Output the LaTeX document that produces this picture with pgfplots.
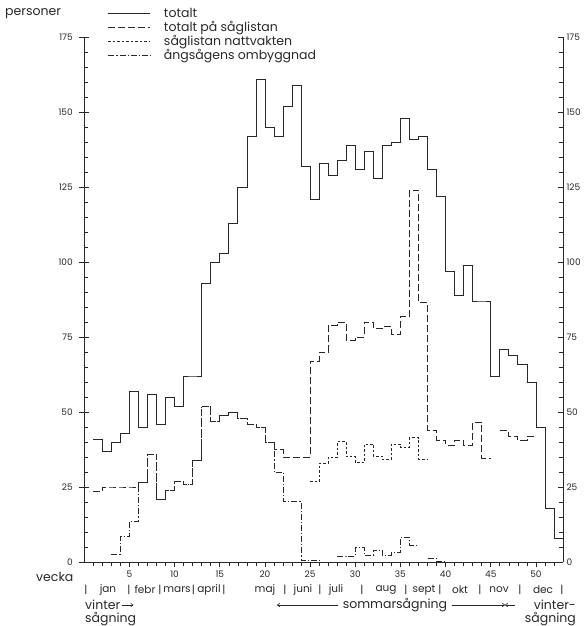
\documentclass[border=0pt]{standalone}
\usepackage{fontspec}
\setmainfont{Poppins}
\usepackage{pgfplots}
\pgfplotsset{compat=1.18}
\usetikzlibrary{arrows.meta}
\definecolor{ink}{RGB}{40,40,40}
\begin{document}
\begin{tikzpicture}
\useasboundingbox (0pt,0pt) rectangle (586pt,-626pt);
\begin{axis}[
  at={(84.3pt,-562pt)}, anchor=south west,
  scale only axis, width=478.7pt, height=525pt,
  xmin=0, xmax=53, ymin=0, ymax=175,
  axis x line*=bottom, axis y line*=left,
  xtick={5,10,...,50}, minor xtick={1,2,...,52},
  ytick={0,25,...,175},
  tick align=outside,
  major tick length=5pt, minor tick length=4pt,
  tick style={ink, line width=0.6pt},
  axis line style={ink, line width=0.7pt},
  /pgf/number format/assume math mode=true,
  ticklabel style={font=\fontsize{9}{10}\selectfont, text=ink},
  yticklabel style={xshift=-3pt},
  legend style={at={(0.043,1.062)}, anchor=north west, draw=none, fill=none,
    font=\fontsize{12.5}{14}\selectfont, text=ink,
    row sep=0pt, nodes={inner sep=1.2pt}},
  legend cell align=left,
  legend image code/.code={\draw[#1] (0pt,0pt) -- (42pt,0pt); \path (54pt,0pt);},
  every axis plot/.append style={ink, line width=0.7pt, const plot mark left, mark=none},
]
% totalt
\addplot[solid] coordinates {(1,41)(2,37)(3,40)(4,43)(5,57)(6,45)(7,56)(8,46)(9,55)(10,52)(11,62)(12,62)(13,93)(14,100)(15,103)(16,113)(17,125)(18,142)(19,161)(20,145)(21,142)(22,152)(23,159)(24,132)(25,121)(26,133)(27,129)(28,134)(29,139)(30,131)(31,137)(32,128)(33,139)(34,140)(35,148)(36,141)(37,142)(38,131)(39,122)(40,97)(41,89)(42,99)(43,87)(44,87)(45,62)(46,71)(47,69)(48,66)(49,60)(50,45)(51,18)(52,8)(53,8)};
\addlegendentry{totalt}
% totalt på såglistan
\addplot[dash pattern=on 7pt off 3pt] coordinates {(1,23.5)(2,25)(3,25)(4,25)(5,25)(6,26.5)(7,36)(8,21)(9,24)(10,27)(11,26)(12,34)(13,52)(14,47)(15,49)(16,50)(17,48)(18,46)(19,45)(20,40)(21,37.5)(22,35)(23,35)(24,35)(25,67)(26,70)(27,79)(28,80)(29,74)(30,75)(31,80)(32,78)(33,78.5)(34,76)(35,82)(36,124)(37,86.5)(38,44)(39,40.7)(40,39)(41,40.7)(42,39)(43,46.6)(44,34.6)(45,34.6)};
\addlegendentry{totalt på såglistan}
% såglistan nattvakten
\addplot[dash pattern=on 2.5pt off 2pt] coordinates {(25,26.8)(26,32.9)(27,34.9)(28,40.1)(29,35.1)(30,33.1)(31,39.3)(32,35.3)(33,34.2)(34,39.3)(35,38.2)(36,41.4)(37,34.3)(38,34.3)};
\addlegendentry{såglistan nattvakten}
% ångsågens ombyggnad
\addplot[dash pattern=on 6pt off 2pt on 1.2pt off 2pt] coordinates {(3,2.5)(4,8.5)(5,13.5)(6,26.5)(7,36)(8,21)(9,24)(10,27)(11,26)(12,34)(13,52)(14,47)(15,49)(16,50)(17,48)(18,46)(19,45)(20,40)(21,30)(22,20.3)(23,20.3)(24,0.7)(25,0.7)(26,0.7)};
\addlegendentry{ångsågens ombyggnad}
\addplot[dash pattern=on 7pt off 3pt, forget plot] coordinates {(46,43.8)(47,41.8)(48,40.7)(49,41.8)(50,41.8)};
\addplot[dash pattern=on 6pt off 2pt on 1.2pt off 2pt, forget plot] coordinates {(28,2)(29,2)(30,5)(31,2.3)(32,4)(33,2.3)(34,3.1)(35,8.2)(36,5.7)(37,5.7)};
\addplot[dash pattern=on 6pt off 2pt on 1.2pt off 2pt, forget plot] coordinates {(38,1.2)(39,0.3)(40,0.3)};
\end{axis}
\begin{axis}[
  at={(84.3pt,-562pt)}, anchor=south west,
  scale only axis, width=478.7pt, height=525pt,
  xmin=0, xmax=53, ymin=0, ymax=175,
  hide x axis,
  ytick={0,25,...,175}, minor ytick={0,5,...,175},
  tick align=inside, yticklabel pos=right, ytick pos=both,
  major tick length=5pt, minor tick length=4pt,
  tick style={ink, line width=0.6pt},
  axis line style={ink, line width=0.7pt},
  /pgf/number format/assume math mode=true,
  ticklabel style={font=\fontsize{9}{10}\selectfont, text=ink},
]
\addplot[draw=none, forget plot] coordinates {(0,0)(53,175)};
\end{axis}
\begin{scope}[every node/.style={text=ink, font=\fontsize{12.5}{14}\selectfont, inner sep=0pt}]
\node[anchor=west] at (5pt,-14pt) {personer};
\node[anchor=west] at (36pt,-577pt) {vecka};
% month row
\begin{scope}[every node/.style={text=ink, font=\fontsize{10.5}{12}\selectfont, inner sep=0pt}]
\foreach \x in {86,129,160,193.5,224,285,320,362,406,440,480,520,562}{\node at (\x pt,-590pt) {|};}
\node at (108pt,-590pt) {jan};
\node at (145pt,-590pt) {febr};
\node at (177pt,-590pt) {mars};
\node at (209pt,-590pt) {april};
\node at (265pt,-590pt) {maj};
\node at (303pt,-590pt) {juni};
\node at (336pt,-590pt) {juli};
\node at (386pt,-590pt) {aug};
\node at (424pt,-590pt) {sept};
\node at (460pt,-590pt) {okt};
\node at (499pt,-590pt) {nov};
\node at (543pt,-590pt) {dec};
\end{scope}
% seasons
\node[anchor=west] (v1) at (85pt,-605pt) {vinter};
\draw[ink, line width=0.6pt, -{To[length=3pt,width=4pt]}] ([xshift=2pt]v1.east) -- ++(11pt,0);
\node[anchor=west] at (85pt,-619pt) {sågning};
\node (som) at (395pt,-605pt) {sommarsågning};
\draw[ink, line width=0.6pt, -{To[length=3pt,width=4pt]}] ([xshift=-5pt]som.west) -- (277pt,-605pt);
\draw[ink, line width=0.6pt, -{To[length=3pt,width=4pt]}] ([xshift=5pt]som.east) -- (505pt,-605pt);
\draw[ink, line width=0.6pt, -{To[length=3pt,width=4pt]}] (515pt,-605pt) -- (505pt,-605pt);
\node[anchor=east] at (576pt,-605pt) {vinter-};
\node[anchor=east] at (576pt,-619pt) {sågning};
\end{scope}
\end{tikzpicture}
\end{document}
